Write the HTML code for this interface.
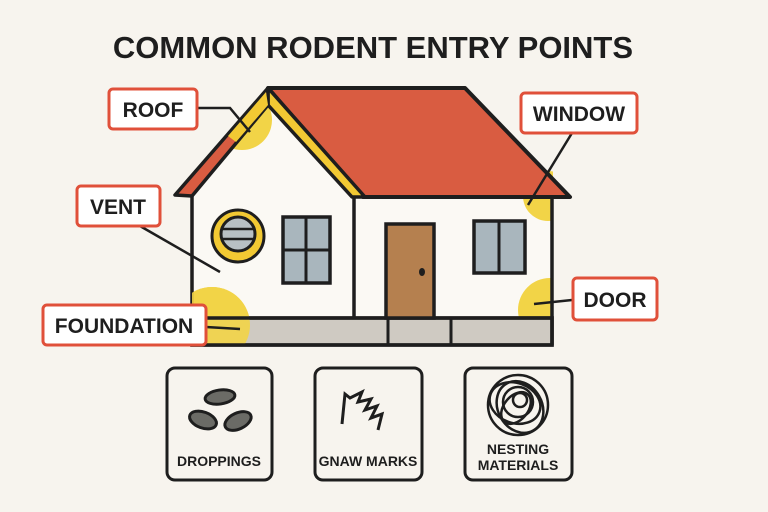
<!DOCTYPE html>
<html><head><style>
html,body{margin:0;padding:0;background:#f7f4ee;}
svg{display:block}
text{font-family:"Liberation Sans",sans-serif;font-weight:bold;fill:#1e1e1e}
</style></head><body>
<svg width="768" height="512" viewBox="0 0 768 512">
<rect width="768" height="512" fill="#f7f4ee"/>
<text x="373" y="58" font-size="31" text-anchor="middle" letter-spacing="0">COMMON RODENT ENTRY POINTS</text>
<defs><clipPath id="walls"><rect x="192" y="150" width="361" height="196"/><polygon points="192,197 268,105 354,197"/></clipPath></defs>
<polygon points="192,195 268,105 354,197 552,197 552,318 192,318" fill="#fbf9f4"/>
<g clip-path="url(#walls)" fill="#f2d447">
<circle cx="242" cy="120" r="30"/>
<circle cx="548" cy="196" r="25"/>
<circle cx="212" cy="325" r="38"/>
<circle cx="550" cy="310" r="32"/>
</g>
<polygon points="268,88 465,88 570,197 363,197" fill="#d95c41" stroke="#1e1e1e" stroke-width="4" stroke-linejoin="round"/>
<polygon points="268,88 365,197 352,197 268,105" fill="#f2c933" stroke="#1e1e1e" stroke-width="3.5" stroke-linejoin="round"/>
<polygon points="268,88 175,195 192,196 268,105" fill="#d95c41" stroke="#1e1e1e" stroke-width="3.5" stroke-linejoin="round"/>
<polygon points="266,92 228,136 236,142 268,105" fill="#f2c933"/>
<polyline points="192,195 192,318" stroke="#1e1e1e" stroke-width="3.5" fill="none"/>
<polyline points="354,197 354,345" stroke="#1e1e1e" stroke-width="3.5" fill="none"/>
<polyline points="552,197 552,345" stroke="#1e1e1e" stroke-width="3.5" fill="none"/>
<rect x="192" y="318" width="360" height="27" fill="#cfcac2" stroke="#1e1e1e" stroke-width="3.5"/>
<g clip-path="url(#walls)"><circle cx="212" cy="325" r="38" fill="#f2d447" opacity="0.9"/></g>
<rect x="192" y="318" width="360" height="27" fill="none" stroke="#1e1e1e" stroke-width="3.5"/>
<line x1="388" y1="318" x2="388" y2="345" stroke="#1e1e1e" stroke-width="3"/>
<line x1="451" y1="318" x2="451" y2="345" stroke="#1e1e1e" stroke-width="3"/>
<circle cx="238" cy="236" r="26" fill="#f2c933" stroke="#1e1e1e" stroke-width="3"/>
<circle cx="238" cy="234" r="17" fill="#b8c0c4" stroke="#1e1e1e" stroke-width="3"/>
<line x1="222" y1="229" x2="254" y2="229" stroke="#1e1e1e" stroke-width="2.5"/>
<line x1="222" y1="239" x2="254" y2="239" stroke="#1e1e1e" stroke-width="2.5"/>
<rect x="283" y="217" width="47" height="66" fill="#a9b6bd" stroke="#1e1e1e" stroke-width="3.5"/>
<line x1="306" y1="217" x2="306" y2="283" stroke="#1e1e1e" stroke-width="3"/>
<line x1="283" y1="250" x2="330" y2="250" stroke="#1e1e1e" stroke-width="3"/>
<rect x="474" y="221" width="51" height="52" fill="#a9b6bd" stroke="#1e1e1e" stroke-width="3.5"/>
<line x1="499" y1="221" x2="499" y2="273" stroke="#1e1e1e" stroke-width="3"/>
<rect x="386" y="224" width="48" height="94" fill="#b5804f" stroke="#1e1e1e" stroke-width="3.5"/>
<ellipse cx="422" cy="272" rx="3" ry="4" fill="#1e1e1e"/>
<g stroke="#1e1e1e" stroke-width="2.5" fill="none">
<polyline points="197,108 230,108 250,132"/>
<line x1="572" y1="133" x2="528" y2="205"/>
<line x1="140" y1="226" x2="220" y2="272"/>
<line x1="572" y1="300" x2="534" y2="304"/>
<line x1="206" y1="327" x2="240" y2="329"/>
</g>
<g fill="#fff" stroke="#e0503a" stroke-width="3">
<rect x="109" y="89" width="88" height="40" rx="4"/>
<rect x="521" y="93" width="116" height="40" rx="4"/>
<rect x="77" y="186" width="83" height="40" rx="4"/>
<rect x="573" y="278" width="84" height="42" rx="4"/>
<rect x="43" y="305" width="163" height="40" rx="4"/>
</g>
<text x="153" y="117" font-size="21" text-anchor="middle">ROOF</text>
<text x="579" y="121" font-size="21" text-anchor="middle">WINDOW</text>
<text x="118" y="214" font-size="21" text-anchor="middle">VENT</text>
<text x="615" y="307" font-size="21" text-anchor="middle">DOOR</text>
<text x="124" y="333" font-size="21" text-anchor="middle">FOUNDATION</text>
<g fill="none" stroke="#1e1e1e" stroke-width="3">
<rect x="167" y="368" width="105" height="112" rx="8"/>
<rect x="315" y="368" width="107" height="112" rx="8"/>
<rect x="465" y="368" width="107" height="112" rx="8"/>
</g>
<g fill="#6b6b66" stroke="#1e1e1e" stroke-width="3">
<ellipse cx="220" cy="397" rx="15" ry="7" transform="rotate(-8 220 397)"/>
<ellipse cx="203" cy="420" rx="14" ry="8" transform="rotate(20 203 420)"/>
<ellipse cx="238" cy="421" rx="14" ry="8" transform="rotate(-25 238 421)"/>
</g>
<polyline points="342,424 345,394 350,398 362,392 358,402 371,399 365,410 377,406 371,418 382,414 378,430" fill="none" stroke="#1e1e1e" stroke-width="3" stroke-linejoin="miter"/>
<g fill="none" stroke="#1e1e1e" stroke-width="2.5">
<circle cx="518" cy="405" r="30"/>
<ellipse cx="515" cy="403" rx="26" ry="20" transform="rotate(20 515 403)"/>
<ellipse cx="520" cy="407" rx="22" ry="27" transform="rotate(-30 520 407)"/>
<circle cx="518" cy="402" r="15"/>
<ellipse cx="516" cy="408" rx="12" ry="18" transform="rotate(40 516 408)"/>
<circle cx="520" cy="400" r="7"/>
</g>
<text x="219" y="466" font-size="14" text-anchor="middle">DROPPINGS</text>
<text x="368" y="466" font-size="14" text-anchor="middle">GNAW MARKS</text>
<text x="518" y="454" font-size="14" text-anchor="middle">NESTING</text>
<text x="518" y="470" font-size="14" text-anchor="middle">MATERIALS</text>
</svg>
</body></html>
